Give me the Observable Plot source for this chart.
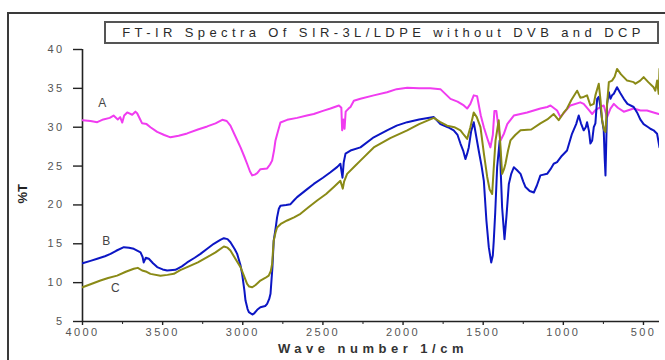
<!DOCTYPE html>
<html>
<head>
<meta charset="utf-8">
<script src="https://cdn.jsdelivr.net/npm/d3@7"></script>
<script src="https://cdn.jsdelivr.net/npm/@observablehq/plot@0.6"></script>
<style>
  html, body { margin: 0; padding: 0; background: #fff; }
  #wrap { position: relative; width: 665px; height: 360px; overflow: hidden; font-family: "Liberation Sans", Arial, sans-serif; }
  #frame { position: absolute; left: 7px; top: 12px; width: 720px; height: 420px; border: 2px solid #3a3a3a; box-sizing: border-box; }
  #title { position: absolute; left: 104px; top: 21px; width: 555px; height: 23px; border: 2px solid #555; box-sizing: border-box; background: #fff;
           font-size: 13px; letter-spacing: 4.4px; color: #2a2a2a; text-align: center; line-height: 19px; white-space: nowrap; padding-left: 4px; }
  #chart { position: absolute; left: 0; top: 0; }
  #chart svg text { letter-spacing: 2.4px; }
</style>
</head>
<body>
<div id="wrap">
  <div id="frame"></div>
  <div id="chart"></div>
  <div id="title">FT-IR Spectra Of SIR-3L/LDPE without DVB and DCP</div>
</div>
<script>
// ---- data (wavenumber in 1/cm, %T) ----
const waveA = [4000,3950,3908,3870,3830,3806,3780,3765,3752,3740,3721,3690,3670,3659,3640,3628,3600,3576,3534,3490,3451,3400,3347,3280,3222,3170,3128,3100,3077,3050,3014,2990,2973,2955,2941,2925,2910,2890,2848,2830,2817,2805,2796,2780,2765,2723,2661,2600,2557,2500,2453,2400,2385,2380,2372,2365,2358,2340,2328,2307,2266,2183,2100,2040,1974,1900,1830,1767,1704,1660,1621,1600,1580,1559,1538,1515,1496,1470,1455,1440,1430,1418,1405,1392,1370,1350,1309,1226,1143,1100,1080,1039,1018,990,956,894,873,840,820,800,768,748,737,727,706,685,660,623,561,519,478,437,405];
const tA    = [30.9,30.8,30.65,31.0,31.2,31.5,31.0,31.3,30.6,31.5,31.9,31.6,32.0,31.8,31.0,30.5,30.4,30.0,29.4,29.0,28.7,28.9,29.2,29.7,30.1,30.5,30.95,30.8,30.2,29.0,27.4,26.2,25.3,24.3,23.8,23.9,24.1,24.6,24.7,25.2,25.7,27.0,28.3,29.5,30.6,30.95,31.2,31.5,31.7,32.1,32.4,32.8,32.5,29.6,31.0,29.8,32.0,32.4,32.6,33.4,33.66,34.1,34.5,34.9,35.07,35.0,35.0,34.9,33.65,33.3,32.8,32.4,33.0,34.1,34.0,31.5,30.0,28.3,27.4,29.0,32.1,32.1,30.0,28.3,29.2,30.4,31.5,31.9,32.4,32.6,32.8,32.15,31.3,32.0,32.8,33.2,33.0,32.2,31.7,32.2,32.6,32.8,32.0,31.3,32.4,33.0,32.5,32.0,32.4,32.15,32.15,31.9,31.7];

const waveB = [4000,3950,3908,3860,3825,3790,3742,3710,3680,3638,3625,3618,3605,3586,3560,3534,3500,3472,3420,3380,3347,3300,3264,3220,3181,3140,3118,3095,3077,3050,3035,3015,3004,2990,2983,2970,2962,2940,2931,2910,2890,2860,2848,2835,2827,2815,2807,2795,2786,2775,2765,2730,2702,2680,2661,2600,2557,2500,2453,2410,2391,2383,2378,2370,2359,2328,2266,2183,2100,2040,1974,1900,1808,1767,1720,1684,1660,1642,1625,1611,1600,1590,1575,1559,1545,1528,1510,1496,1480,1465,1450,1440,1434,1425,1413,1397,1390,1382,1367,1355,1340,1325,1309,1290,1267,1250,1236,1210,1184,1165,1143,1101,1080,1060,1039,1010,977,946,920,904,890,873,860,852,840,831,820,810,800,789,779,768,758,748,742,737,730,727,716,706,696,685,665,645,623,600,561,540,520,499,470,457,437,415,400];
const tB    = [12.5,12.8,13.07,13.4,13.7,14.1,14.56,14.5,14.35,13.9,13.3,12.6,13.2,13.07,12.5,12.0,11.7,11.56,11.65,12.1,12.6,13.2,13.7,14.4,15.0,15.5,15.72,15.6,15.2,14.3,13.7,12.3,11.14,9.0,7.7,6.6,6.2,5.9,6.0,6.5,6.84,7.0,7.27,7.9,8.56,12.0,15.4,17.0,18.4,19.5,19.9,20.0,20.1,20.6,21.0,22.0,22.7,23.5,24.2,24.9,25.3,24.2,23.5,25.5,26.6,27.0,27.4,28.7,29.6,30.2,30.65,31.0,31.3,30.4,30.0,29.6,29.0,27.9,27.0,25.9,26.6,27.4,29.5,30.65,29.0,27.0,25.0,23.1,18.0,14.56,12.6,13.5,15.4,19.0,24.85,28.3,24.0,19.7,15.6,18.5,22.7,24.0,24.85,24.5,24.0,23.0,22.3,21.8,21.6,22.5,23.8,24.0,24.6,25.3,25.5,26.3,27.0,29.15,30.4,31.5,30.5,29.6,30.0,30.65,29.5,27.9,28.3,30.0,30.5,33.65,33.9,32.6,30.9,29.6,26.0,23.8,30.0,33.0,34.5,33.65,34.1,34.3,35.15,34.4,33.65,33.0,32.6,31.9,31.0,30.4,30.0,29.8,29.6,29.15,27.4];

const waveC = [4000,3950,3888,3840,3784,3730,3680,3655,3628,3600,3576,3514,3470,3430,3390,3347,3280,3222,3170,3118,3095,3077,3050,3014,2995,2973,2960,2941,2920,2890,2860,2838,2825,2817,2807,2795,2786,2760,2723,2680,2640,2590,2536,2480,2432,2391,2382,2376,2368,2349,2300,2266,2183,2080,1974,1900,1808,1770,1725,1680,1642,1620,1600,1580,1559,1540,1517,1495,1475,1460,1444,1435,1423,1403,1392,1382,1370,1361,1345,1330,1300,1267,1200,1143,1100,1060,1029,1000,977,950,914,894,873,852,831,810,800,779,768,758,745,737,727,716,696,680,665,640,602,580,561,550,520,499,470,437,426,415,405,400];
const tC    = [9.41,9.8,10.27,10.6,10.9,11.4,11.78,11.9,11.56,11.4,11.13,10.9,11.0,11.13,11.6,12.0,12.6,13.27,13.9,14.65,14.5,14.13,13.2,12.0,11.0,9.85,9.5,9.41,9.7,10.27,10.6,10.9,11.5,12.4,15.4,16.5,17.1,17.6,18.0,18.4,18.86,19.7,20.57,21.4,22.3,23.1,22.5,22.1,23.0,24.0,25.0,25.7,27.4,28.6,29.6,30.4,31.2,30.7,30.2,30.0,29.6,29.0,28.5,30.0,31.9,31.3,30.0,26.5,23.6,22.0,21.4,24.5,28.3,30.9,27.5,24.0,24.6,25.3,27.0,28.3,29.0,29.6,29.7,30.5,31.0,31.7,30.9,31.8,32.4,33.5,34.7,33.8,33.9,34.1,32.8,33.0,34.1,35.6,33.5,30.9,29.6,29.4,33.0,35.8,36.0,36.5,37.5,36.8,36.0,35.9,35.8,35.6,36.0,36.45,35.8,35.15,34.7,36.0,34.3,37.5];

const seriesNames  = ["A", "B", "C"];
const seriesColors = ["#f03cf0", "#0c16c4", "#8a8a16"];
const labelWave = [3869, 3844, 3788];
const labelT    = [33.05, 15.3, 9.25];

const xTicks = [4000, 3500, 3000, 2500, 2000, 1500, 1000, 500];
const xMinor = [3750, 3250, 2750, 2250, 1750, 1250, 750];
const yTicks = [5, 10, 15, 20, 25, 30, 35, 40];

const toRows = (w, t, name) => w.map((d, i) => ({wave: d, t: t[i], series: name}));
const rows = [
  ...toRows(waveA, tA, "A"),
  ...toRows(waveB, tB, "B"),
  ...toRows(waveC, tC, "C")
];
const labels = seriesNames.map((s, i) => ({s, wave: labelWave[i], t: labelT[i]}));

const chart = Plot.plot({
  width: 665,
  height: 360,
  marginLeft: 82,
  marginRight: 6,
  marginTop: 49,
  marginBottom: 39,
  style: {background: "transparent", fontFamily: "'Liberation Sans', Arial, sans-serif", fontSize: "11px", color: "#555"},
  x: {domain: [4000, 400], label: null},
  y: {domain: [5, 40], label: null},
  color: {domain: seriesNames, range: seriesColors},
  marks: [
    Plot.axisY({ticks: yTicks, tickSize: 9, tickPadding: 9, label: null, tickFormat: d => String(d), stroke: "#222", strokeWidth: 1.4}),
    Plot.axisX({ticks: xTicks, tickSize: 4, tickPadding: 3, label: null, tickFormat: d => String(d), stroke: "#222", strokeWidth: 1.4}),
    Plot.axisX({ticks: xMinor, tickSize: 3, label: null, tickFormat: () => "", stroke: "#222"}),
    Plot.ruleY([5], {stroke: "#222", strokeWidth: 1.6}),
    Plot.ruleX([4000], {stroke: "#222", strokeWidth: 1.6}),
    Plot.lineY(rows, {x: "wave", y: "t", z: "series", stroke: "series", strokeWidth: 2, clip: true}),
    Plot.text(labels, {x: "wave", y: "t", text: "s", fill: "#444", fontSize: 12}),
    Plot.text(["%T"], {frameAnchor: "left", dx: -60, dy: 18, rotate: -90, fontSize: 13, fill: "#222", fontWeight: "bold"}),
    Plot.text(["Wave number 1/cm"], {frameAnchor: "bottom", dx: 2, dy: 31, fontSize: 13, fill: "#333", fontWeight: "bold"})
  ]
});
document.getElementById("chart").appendChild(chart);
// wider spacing for the axis title
chart.querySelectorAll("text").forEach(t => { if (t.textContent === "Wave number 1/cm") t.style.letterSpacing = "4.5px"; if (t.textContent === "%T") t.style.letterSpacing = "0px"; });
</script>
</body>
</html>
